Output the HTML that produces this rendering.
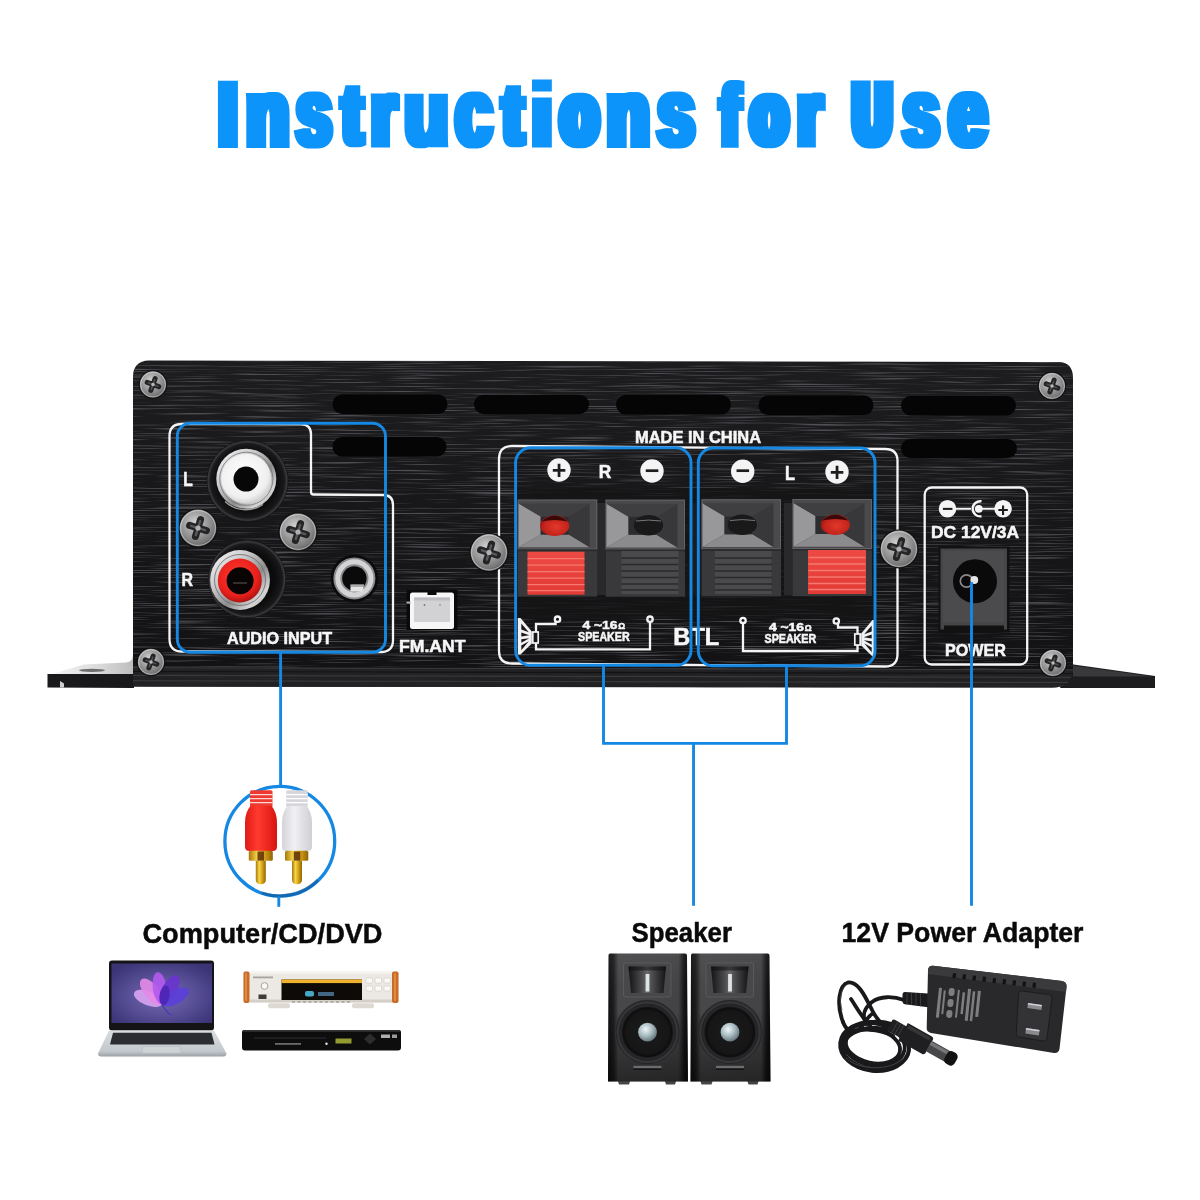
<!DOCTYPE html>
<html lang="en"><head><meta charset="utf-8"><title>Instructions for Use</title>
<style>
html,body{margin:0;padding:0;background:#fff;}
body{width:1200px;height:1200px;overflow:hidden;position:relative;}
svg{display:block;position:absolute;left:0;top:0;will-change:transform;}
text{font-family:"Liberation Sans",sans-serif;}
.lbl{font-family:"Liberation Sans",sans-serif;font-weight:bold;fill:#f6f6f6;stroke:#f6f6f6;stroke-width:0.55;}
.cap{font-family:"Liberation Sans",sans-serif;font-weight:bold;fill:#0a0a0a;stroke:#0a0a0a;stroke-width:0.5;}
.pm{font-family:"Liberation Sans",sans-serif;font-weight:bold;fill:#1d1d1f;}
.bl{fill:none;stroke:#1488e3;stroke-width:2.9;}
.wl{fill:none;stroke:#f4f4f4;stroke-width:2.3;}
.ttl{font-family:"Liberation Sans",sans-serif;font-weight:bold;fill:#0e94fb;stroke:#0e94fb;stroke-linejoin:miter;}
</style></head><body>
<svg width="1200" height="1200" viewBox="0 0 1200 1200">
<defs>
<filter id="brush" x="0" y="0" width="100%" height="100%" color-interpolation-filters="sRGB">
<feTurbulence type="fractalNoise" baseFrequency="0.013 0.95" numOctaves="2" seed="7" result="n"/>
<feColorMatrix in="n" type="matrix" values="0 0 0 0 0.31  0 0 0 0 0.31  0 0 0 0 0.33  3.6 0 0 0 -1.86" result="a"/>
<feComposite in="a" in2="SourceGraphic" operator="in"/>
</filter>
<linearGradient id="bodyg" x1="0" y1="0" x2="0" y2="1">
<stop offset="0" stop-color="#1d1d1f"/><stop offset="0.5" stop-color="#171719"/><stop offset="1" stop-color="#121214"/>
</linearGradient>
<radialGradient id="screwg" cx="0.42" cy="0.36" r="0.72">
<stop offset="0" stop-color="#d2d2d2"/><stop offset="0.4" stop-color="#a2a2a2"/><stop offset="0.8" stop-color="#767676"/><stop offset="1" stop-color="#3a3a3a"/>
</radialGradient>
<g id="screw">
<circle r="14.3" fill="#0e0e0f"/>
<circle r="13.2" fill="url(#screwg)"/>
<circle r="12.4" fill="none" stroke="#f2f2f2" stroke-width="0.9" opacity=".55"/>
<path d="M-6.2,0H6.2M0,-6.2V6.2" stroke="#242426" stroke-width="5" stroke-linecap="round" fill="none" transform="rotate(20)"/>
<path d="M-5,0H5M0,-5V5" stroke="#4f4f52" stroke-width="1.6" stroke-linecap="round" fill="none" transform="rotate(20)"/>
<circle r="1.7" fill="#b9b9b9"/>
</g>
<g id="screwL">
<circle r="19.6" fill="#0e0e0f"/>
<circle r="18.4" fill="url(#screwg)"/>
<circle r="17.4" fill="none" stroke="#f4f4f4" stroke-width="1" opacity=".5"/>
<path d="M-8.8,0H8.8M0,-8.8V8.8" stroke="#242426" stroke-width="7" stroke-linecap="round" fill="none" transform="rotate(17)"/>
<path d="M-7.4,0H7.4M0,-7.4V7.4" stroke="#58585b" stroke-width="2.4" stroke-linecap="round" fill="none" transform="rotate(17)"/>
<circle r="2.6" fill="#b0b0b0"/>
</g>
<linearGradient id="silv" x1="0" y1="0" x2="1" y2="1">
<stop offset="0" stop-color="#fafafa"/><stop offset="0.35" stop-color="#c9c9c9"/><stop offset="0.6" stop-color="#8c8c8c"/><stop offset="0.8" stop-color="#d5d5d5"/><stop offset="1" stop-color="#9a9a9a"/>
</linearGradient>
<radialGradient id="blk" cx="0.5" cy="0.5" r="0.5">
<stop offset="0.7" stop-color="#0b0b0c"/><stop offset="0.9" stop-color="#19191b"/><stop offset="0.96" stop-color="#3a3a3d"/><stop offset="1" stop-color="#0c0c0d"/>
</radialGradient>
<radialGradient id="whins" cx="0.45" cy="0.4" r="0.6">
<stop offset="0" stop-color="#ffffff"/><stop offset="0.8" stop-color="#efefef"/><stop offset="1" stop-color="#cfcfcf"/>
</radialGradient>
<radialGradient id="redins" cx="0.45" cy="0.4" r="0.6">
<stop offset="0" stop-color="#ff3a30"/><stop offset="0.75" stop-color="#e8201c"/><stop offset="1" stop-color="#b01410"/>
</radialGradient>
<linearGradient id="redbtn" x1="0" y1="0" x2="0" y2="1">
<stop offset="0" stop-color="#ee4a44"/><stop offset="1" stop-color="#e23a35"/>
</linearGradient>
<g id="term">
<rect x="0" y="0" width="79.500" height="50" fill="#4a4a4c"/>
<rect x="0.500" y="0.500" width="78.500" height="49" fill="none" stroke="#636365" stroke-width="1"/>
<path d="M1,4 L23,17 L23,35 L1,47.700 Z" fill="#98989b"/>
<path d="M1,47.700 L23,35 L51,35 L72,47.700 Z" fill="#8b8b8e"/>
<path d="M1,4 L72,4 L51,17 L23,17 Z" fill="#3f3f41"/>
<path d="M72,4 L72,47.700 L51,35 L51,17 Z" fill="#38383a"/>
<rect x="23" y="17" width="28" height="18" fill="#2c2c2e"/>
<rect x="0" y="50" width="79.500" height="47" fill="#39393b"/>
<rect x="0" y="50" width="79.500" height="1.600" fill="#2b2b2d"/>
</g>
<g id="ridges" stroke-width="1.3" fill="none">
<path d="M0,7h57M0,13.5h57M0,20h57M0,26.5h57M0,33h57M0,39h57"/>
</g>
<g id="plus"><circle r="11.700" fill="#f4f4f4"/><text class="pm" text-anchor="middle" x="0" y="8.850" font-size="25">+</text></g>
<g id="minus"><circle r="11.700" fill="#f4f4f4"/><text class="pm" text-anchor="middle" x="0" y="7.800" font-size="25">−</text></g>
<linearGradient id="gold" x1="0" y1="0" x2="1" y2="0">
<stop offset="0" stop-color="#a8770a"/><stop offset="0.35" stop-color="#f6d54a"/><stop offset="0.6" stop-color="#e0a818"/><stop offset="1" stop-color="#8f6408"/>
</linearGradient>
<linearGradient id="redplug" x1="0" y1="0" x2="1" y2="0">
<stop offset="0" stop-color="#e01a14"/><stop offset="0.4" stop-color="#ff3b30"/><stop offset="1" stop-color="#d8140f"/>
</linearGradient>
<linearGradient id="whplug" x1="0" y1="0" x2="1" y2="0">
<stop offset="0" stop-color="#d4d4d8"/><stop offset="0.4" stop-color="#f1f1f4"/><stop offset="1" stop-color="#cfcfd4"/>
</linearGradient>
<radialGradient id="lscr" cx="0.5" cy="0.55" r="0.65">
<stop offset="0" stop-color="#756db2"/><stop offset="0.55" stop-color="#564d95"/><stop offset="1" stop-color="#3a3374"/>
</radialGradient>
<linearGradient id="lbase" x1="0" y1="0" x2="0" y2="1">
<stop offset="0" stop-color="#d9dde0"/><stop offset="0.8" stop-color="#c3c8cc"/><stop offset="1" stop-color="#9aa0a5"/>
</linearGradient>
<linearGradient id="spkbody" x1="0" y1="0" x2="1" y2="0">
<stop offset="0" stop-color="#101011"/><stop offset="0.07" stop-color="#1e1e1f"/><stop offset="0.13" stop-color="#48484a"/><stop offset="0.88" stop-color="#434345"/><stop offset="0.95" stop-color="#151516"/><stop offset="1" stop-color="#0c0c0d"/>
</linearGradient>
<radialGradient id="cone" cx="0.5" cy="0.5" r="0.5">
<stop offset="0" stop-color="#1b1b1c"/><stop offset="0.75" stop-color="#161617"/><stop offset="0.85" stop-color="#0d0d0e"/><stop offset="0.93" stop-color="#2a2a2c"/><stop offset="1" stop-color="#1d1d1f"/>
</radialGradient>
<radialGradient id="dust" cx="0.4" cy="0.35" r="0.7">
<stop offset="0" stop-color="#eef6f8"/><stop offset="0.5" stop-color="#a9bcc2"/><stop offset="1" stop-color="#5c6c72"/>
</radialGradient>
<g id="spkbox">
<path d="M2,0 L77,0 Q79,0 79,2 L80,128 L68,128 L67,131 L58,131 L57,128 L22,128 L21,131 L11,131 L10,128 L0,128 L0.500,2 Q0.500,0 2,0Z" fill="url(#spkbody)"/>
<path d="M2,0 L77,0 Q79,0 79,2 L80,128 L0,128 L0.500,2 Q0.500,0 2,0Z" fill="url(#spkv)"/>
<rect x="15.500" y="9.500" width="47.500" height="34" rx="2" fill="#48484a"/>
<rect x="15.500" y="9.500" width="47.500" height="34" rx="2" fill="none" stroke="#5e5e60" stroke-width="0.800"/>
<path d="M20.500,13 h37.500 l-2.500,26.500 h-32.500z" fill="url(#horn)"/>
<rect x="20.500" y="13" width="37.500" height="4" fill="#111" opacity=".55"/>
<rect x="37.600" y="20.500" width="3.800" height="17.500" fill="#dfe3e6"/>
<circle cx="39.500" cy="78.700" r="32.500" fill="#353537"/>
<circle cx="39.500" cy="78.700" r="31.500" fill="none" stroke="#232325" stroke-width="1"/>
<circle cx="39.500" cy="78.700" r="28.500" fill="url(#cone)"/>
<circle cx="39.500" cy="78.700" r="9.400" fill="url(#dust)"/>
<rect x="25.500" y="112.300" width="28" height="2.600" fill="#6c6c6e"/>
<rect x="25.500" y="114.900" width="28" height="1.600" fill="#151516"/>
</g>
<linearGradient id="flgL" x1="0" y1="0" x2="1" y2="0">
<stop offset="0" stop-color="#f4f4f4"/><stop offset="0.55" stop-color="#dcdcdc"/><stop offset="1" stop-color="#bdbdbd"/>
</linearGradient>
<radialGradient id="redhole" cx="0.55" cy="0.55" r="0.6">
<stop offset="0" stop-color="#e2382a"/><stop offset="0.7" stop-color="#c4241c"/><stop offset="1" stop-color="#98140f"/>
</radialGradient>
<linearGradient id="spkv" x1="0" y1="0" x2="0" y2="1">
<stop offset="0" stop-color="#fff" stop-opacity="0.05"/><stop offset="0.45" stop-color="#000" stop-opacity="0"/><stop offset="1" stop-color="#000" stop-opacity="0.45"/>
</linearGradient>
<linearGradient id="horn" x1="0" y1="0" x2="1" y2="0">
<stop offset="0" stop-color="#141415"/><stop offset="0.38" stop-color="#4e4e50"/><stop offset="0.5" stop-color="#6a6a6c"/><stop offset="0.62" stop-color="#4e4e50"/><stop offset="1" stop-color="#141415"/>
</linearGradient>
<filter id="hd" filterUnits="userSpaceOnUse" x="180" y="50" width="840" height="130"><feMorphology operator="dilate" radius="3 0"/></filter>

</defs>
<rect width="1200" height="1200" fill="#ffffff"/>
<text class="ttl" filter="url(#hd)"><tspan x="218.75" y="145.10" font-size="88.46" stroke-width="6.0" textLength="18.33" lengthAdjust="spacingAndGlyphs">I</tspan><tspan x="246.75" y="145.10" font-size="92.31" stroke-width="6.0" textLength="41.86" lengthAdjust="spacingAndGlyphs">n</tspan><tspan x="296.60" y="144.65" font-size="93.73" stroke-width="5.0" textLength="34.96" lengthAdjust="spacingAndGlyphs">s</tspan><tspan x="342.75" y="142.90" font-size="82.47" stroke-width="6.5" textLength="19.00" lengthAdjust="spacingAndGlyphs">t</tspan><tspan x="372.35" y="144.10" font-size="88.67" stroke-width="7.0" textLength="23.39" lengthAdjust="spacingAndGlyphs">r</tspan><tspan x="404.65" y="144.65" font-size="93.14" stroke-width="4.5" textLength="43.37" lengthAdjust="spacingAndGlyphs">u</tspan><tspan x="455.85" y="144.65" font-size="93.73" stroke-width="5.0" textLength="35.93" lengthAdjust="spacingAndGlyphs">c</tspan><tspan x="503.35" y="142.90" font-size="82.47" stroke-width="6.5" textLength="19.32" lengthAdjust="spacingAndGlyphs">t</tspan><tspan x="530.75" y="146.10" font-size="88.08" stroke-width="3.0" textLength="22.41" lengthAdjust="spacingAndGlyphs">i</tspan><tspan x="561.00" y="142.65" font-size="85.85" stroke-width="8.5" textLength="36.97" lengthAdjust="spacingAndGlyphs">o</tspan><tspan x="607.35" y="145.10" font-size="92.31" stroke-width="6.0" textLength="41.90" lengthAdjust="spacingAndGlyphs">n</tspan><tspan x="657.65" y="144.65" font-size="93.73" stroke-width="5.0" textLength="36.66" lengthAdjust="spacingAndGlyphs">s</tspan> <tspan x="720.85" y="145.10" font-size="85.03" stroke-width="6.0" textLength="18.61" lengthAdjust="spacingAndGlyphs">f</tspan><tspan x="751.00" y="142.65" font-size="85.85" stroke-width="8.5" textLength="36.31" lengthAdjust="spacingAndGlyphs">o</tspan><tspan x="798.35" y="144.10" font-size="88.67" stroke-width="7.0" textLength="23.06" lengthAdjust="spacingAndGlyphs">r</tspan> <tspan x="854.00" y="141.65" font-size="80.69" stroke-width="11.0" textLength="36.29" lengthAdjust="spacingAndGlyphs">U</tspan><tspan x="903.00" y="144.65" font-size="93.73" stroke-width="5.0" textLength="35.99" lengthAdjust="spacingAndGlyphs">s</tspan><tspan x="949.35" y="144.65" font-size="93.70" stroke-width="6.0" textLength="37.46" lengthAdjust="spacingAndGlyphs">e</tspan></text>

<g id="device">
<!-- flanges -->
<path d="M47.5,674 L134,674 L134,688 L47.5,687.5 Z" fill="#19191b"/>
<path d="M52,674 L84,664.5 L126,662.5 Q133,662 133,655 L134,674 Z" fill="url(#flgL)"/>
<ellipse cx="92" cy="670.3" rx="13" ry="1.6" fill="#6d6d6f"/>
<path d="M60,681 v6.5 h4 v-4z" fill="#cfcfcf"/>
<path d="M1070,664 L1155,676 L1155,688 L1060,688 Z" fill="#1d1d1f"/>
<path d="M1073,665.5 L1152,676.5 L1073,676.5 Z" fill="#39393b"/>
<!-- body -->
<path id="bodyp" d="M133,377 Q133,361 149,360.5 L1058,362 Q1073,362 1073,378 L1073,668 Q1073,687.5 1052,687.5 L133,686.5 Z" fill="url(#bodyg)"/>
<path d="M133,377 Q133,361 149,360.5 L1058,362 Q1073,362 1073,378 L1073,668 Q1073,687.5 1052,687.5 L133,686.5 Z" fill="#505054" filter="url(#brush)"/>
<path d="M133,667.500 L1073,669.500 Q1072,687.500 1052,687.500 L133,686.500Z" fill="#242426" opacity="0.9"/>
<path d="M133,667.700 L1073,669.700 M133,675.500 L1071,677.300 M133,680.800 L1068,682.500" stroke="#47474a" stroke-width="0.9" opacity=".8" fill="none"/>
<path d="M133,671.500 L1073,673.500" stroke="#0f0f10" stroke-width="1.2" opacity=".8" fill="none"/>
<!-- vents -->
<g fill="#050505">
<rect x="332.5" y="394.5" width="115" height="19.5" rx="9.7"/>
<rect x="474" y="394.7" width="115" height="19.5" rx="9.7"/>
<rect x="616" y="395" width="115" height="19.5" rx="9.7"/>
<rect x="758.5" y="395.5" width="115" height="19.5" rx="9.7"/>
<rect x="901" y="396" width="115" height="19.5" rx="9.7"/>
<rect x="332.5" y="437" width="114" height="19.5" rx="9.7"/>
<rect x="901" y="439" width="116" height="19" rx="9.5"/>
</g>
<!-- corner screws -->
<use href="#screw" x="153" y="384.5"/>
<use href="#screw" x="1052" y="386"/>
<use href="#screw" x="151" y="662"/>
<use href="#screw" x="1053" y="663"/>
<g id="audio">
<!-- white silk outline -->
<path class="wl" d="M169.5,436 Q169.5,424 182,424 L301,424.3 Q311,424.5 311,434 L311,492 Q311,494.5 313.5,494.5 L383,495 Q393,495 393,505 L393,640 Q393,652 381,652 L182,651.5 Q169.5,651.5 169.5,639 Z"/>
<!-- RCA L -->
<circle cx="247.500" cy="480.900" r="41" fill="url(#blk)"/>
<circle cx="246.300" cy="478.800" r="30" fill="url(#silv)"/>
<circle cx="246.300" cy="478.800" r="26.600" fill="none" stroke="#77777a" stroke-width="1" opacity=".8"/>
<circle cx="246.300" cy="478.800" r="25" fill="url(#whins)"/>
<circle cx="246" cy="479.100" r="12.500" fill="#070707"/>
<path d="M225,501.500 A30.500,30.500 0 0 0 263,504.500" fill="none" stroke="#fff" stroke-width="1.400" opacity=".6"/>
<!-- RCA R -->
<circle cx="247" cy="579.100" r="39.200" fill="url(#blk)"/>
<circle cx="240" cy="580" r="29.900" fill="url(#silv)"/>
<circle cx="240" cy="580" r="25.500" fill="none" stroke="#6a6a6d" stroke-width="1" opacity=".8"/>
<circle cx="239.800" cy="580.500" r="22" fill="url(#redins)"/>
<circle cx="240.100" cy="580.700" r="13.500" fill="#0a0505"/>
<path d="M233,583 h14" stroke="#8a8a8a" stroke-width=".8" opacity=".8"/>
<!-- screws -->
<use href="#screwL" x="198" y="528"/>
<use href="#screwL" x="298" y="532"/>
<!-- 3.5mm jack -->
<circle cx="354.400" cy="578.400" r="23.800" fill="#0b0b0c"/>
<circle cx="354.400" cy="578.400" r="21" fill="#8b8b8d"/>
<circle cx="354.400" cy="578.400" r="16.600" fill="none" stroke="#d4d4d6" stroke-width="5"/>
<circle cx="354.400" cy="578.400" r="12.200" fill="#0a0a0a"/>
<path d="M350.500,584.500 h13.500 l-1.500,7 h-12z" fill="#e4e4e4"/>
<path d="M350.500,586 h13" stroke="#555" stroke-width=".8"/>
<!-- labels -->
<text class="lbl" x="183.3" y="486.4" font-size="19.5" textLength="9.5" lengthAdjust="spacingAndGlyphs">L</text>
<text class="lbl" x="181.4" y="586" font-size="19" textLength="11.5" lengthAdjust="spacingAndGlyphs">R</text>
<text class="lbl" x="227" y="644.4" font-size="17.3" textLength="105" lengthAdjust="spacingAndGlyphs">AUDIO INPUT</text>
<!-- FM.ANT -->
<rect x="406.500" y="590" width="51" height="40" fill="#0a0a0b"/>
<path d="M410,595 q0,-2.500 2.500,-2.500 h15 v2.500 h9 v-2.500 h15 q2.500,0 2.500,2.500 v31.500 q0,2.500 -2.500,2.500 h-39 q-2.500,0 -2.500,-2.500z" fill="#f6f6f6"/>
<path d="M414,597.500 h36 v24.500 h-36z" fill="#d2d2d5"/>
<path d="M414,597.500 h36 v3 h-36z" fill="#bdbdc1"/>
<circle cx="424.500" cy="605" r="0.900" fill="#777"/><circle cx="440" cy="605" r="0.900" fill="#999"/>
<rect x="406.500" y="601.500" width="4" height="2.200" fill="#aaa"/>
<text class="lbl" x="399" y="652.3" font-size="17" textLength="66.5" lengthAdjust="spacingAndGlyphs">FM.ANT</text>
</g>

<g id="spk">
<!-- white silk outline -->
<path class="wl" d="M499,459 Q499,446 512,446 L885,449 Q897.5,449 897.5,461 L897.5,654 Q897.5,666.5 885,666.5 L512,663.5 Q499,663.5 499,651 Z"/>
<text class="lbl" x="635" y="443" font-size="16.8" textLength="126" lengthAdjust="spacingAndGlyphs">MADE IN CHINA</text>
<!-- shadow band behind terminals -->
<rect x="515" y="488" width="360" height="130" fill="#141416" opacity="0.75"/>
<rect x="596" y="503" width="9" height="92" fill="#29292b"/>
<rect x="689" y="503" width="12" height="92" fill="#1c1c1e"/>
<rect x="784" y="503" width="8.5" height="92" fill="#29292b"/>
<use href="#term" x="517.700" y="499.600"/>
<use href="#term" x="605.5" y="499.7" transform="translate(0,0)"/>
<use href="#term" x="701.5" y="499.3"/>
<use href="#term" x="792.5" y="499"/>
<!-- holes -->
<ellipse cx="554.700" cy="525.800" rx="14.600" ry="10.300" fill="url(#redhole)"/>
<path d="M541.500,521.500 q13.200,-11.500 26.400,0 q-13.200,-3 -26.400,0z" fill="#3a0806"/>
<ellipse cx="648.500" cy="525.300" rx="14.600" ry="10.300" fill="#19191a"/>
<path d="M636,521 q12.500,-1.800 25,0" stroke="#77777a" stroke-width="1" fill="none"/>
<ellipse cx="742.300" cy="524.800" rx="14.600" ry="10.300" fill="#19191a"/>
<path d="M730,520.500 q12.500,-1.800 25,0" stroke="#77777a" stroke-width="1" fill="none"/>
<ellipse cx="835.300" cy="524.800" rx="14.600" ry="10.300" fill="url(#redhole)"/>
<path d="M822.100,520.500 q13.200,-11.500 26.400,0 q-13.200,-3 -26.400,0z" fill="#3a0806"/>
<!-- buttons -->
<rect x="527.5" y="551.7" width="57" height="43" fill="url(#redbtn)"/>
<use href="#ridges" x="527.5" y="551.7" stroke="#f67a72"/>
<rect x="621.5" y="551" width="57" height="43" fill="#4a4a4c"/>
<use href="#ridges" x="621.5" y="551" stroke="#2a2a2c"/>
<rect x="715" y="551" width="56.5" height="43" fill="#4a4a4c"/>
<use href="#ridges" x="715" y="551" stroke="#2a2a2c"/>
<rect x="808" y="550" width="58" height="44" fill="url(#redbtn)"/>
<use href="#ridges" x="808.5" y="550.5" stroke="#f67a72"/>
<!-- polarity -->
<use href="#plus" x="559" y="470"/>
<use href="#minus" x="652" y="471"/>
<use href="#minus" x="742.7" y="471.2"/>
<use href="#plus" x="837" y="472"/>
<text class="lbl" x="598.8" y="477.7" font-size="19" textLength="12.5" lengthAdjust="spacingAndGlyphs">R</text>
<text class="lbl" x="785" y="479.5" font-size="20" textLength="10" lengthAdjust="spacingAndGlyphs">L</text>
<!-- bracket 1 -->
<g class="wl" stroke-width="1.4">
<circle cx="557.5" cy="619.2" r="2.7"/>
<path d="M555.6,621.2 L555.6,624 L536,624 L536,649.3 L650,649.3 L650,622"/>
<circle cx="650" cy="619.2" r="2.7"/>
<circle cx="743" cy="620.5" r="2.7"/>
<path d="M743,623.3 L743,651 L857.5,651 L857.5,627.5 L838,627.5 L838,623.5"/>
<circle cx="836.3" cy="621" r="2.7"/>
</g>
<!-- speaker icons -->
<g>
<path d="M517.800,618 L520.500,618 L531.800,631.500 L531.800,643.500 L520.500,654.500 L517.800,654.500Z" fill="#f2f2f2"/>
<g fill="#18181a"><path d="M521.300,623.500 L528.800,632.300 L521.300,629.600Z"/><path d="M521.300,632.400 L529.300,635.200 L521.300,636.600Z"/><path d="M521.300,639.200 L529.300,638.300 L521.300,642.800Z"/><path d="M521.300,645.600 L528.800,641.300 L521.300,650.300Z"/></g>
<rect x="532.800" y="632" width="5.400" height="11" fill="#18181a" stroke="#f2f2f2" stroke-width="1.700"/>
<path d="M875.200,620 L872.500,620 L861.200,633.500 L861.200,645.500 L872.500,656.500 L875.200,656.500Z" fill="#f2f2f2"/>
<g fill="#18181a"><path d="M871.700,625.500 L864.200,634.300 L871.700,631.600Z"/><path d="M871.700,634.400 L863.700,637.200 L871.700,638.600Z"/><path d="M871.700,641.200 L863.700,640.300 L871.700,644.800Z"/><path d="M871.700,647.600 L864.200,643.300 L871.700,652.300Z"/></g>
<rect x="854.800" y="634" width="5.400" height="11" fill="#18181a" stroke="#f2f2f2" stroke-width="1.700"/>
</g>
<text class="lbl" x="582.5" y="629.3" font-size="11.6" textLength="35" lengthAdjust="spacingAndGlyphs">4 ~16</text>
<text class="lbl" x="618.3" y="629.3" font-size="8.6">Ω</text>
<text class="lbl" x="578" y="641.4" font-size="12.3" textLength="51.7" lengthAdjust="spacingAndGlyphs">SPEAKER</text>
<text class="lbl" x="769" y="631" font-size="11.6" textLength="35" lengthAdjust="spacingAndGlyphs">4 ~16</text>
<text class="lbl" x="804.8" y="631" font-size="8.6">Ω</text>
<text class="lbl" x="764.5" y="643.2" font-size="12.3" textLength="51.7" lengthAdjust="spacingAndGlyphs">SPEAKER</text>
<text class="lbl" x="673.3" y="644.8" font-size="24.4" textLength="46" lengthAdjust="spacingAndGlyphs">BTL</text>
<!-- side screws -->
<use href="#screwL" x="489" y="552.5"/>
<use href="#screwL" x="899" y="549"/>
</g>

<g id="pwr">
<rect class="wl" x="924.7" y="487.5" width="102.5" height="177" rx="7"/>
<!-- DC polarity symbol -->
<g>
<path d="M947.500,508.800 H971 M979,508.800 H1003" stroke="#f4f4f4" stroke-width="2"/>
<circle cx="947.500" cy="508.800" r="8.800" fill="#f4f4f4"/>
<circle cx="1003.100" cy="508.800" r="8.800" fill="#f4f4f4"/>
<text class="pm" text-anchor="middle" x="947.500" y="514.750" font-size="19">−</text>
<text class="pm" text-anchor="middle" x="1003.100" y="515.550" font-size="19">+</text>
<path d="M981.500,501.300 A7.600,7.600 0 1 0 981.500,516.300" fill="none" stroke="#f4f4f4" stroke-width="2.400"/>
<circle cx="978.800" cy="508.800" r="3.900" fill="#f4f4f4"/>
</g>
<text class="lbl" x="931" y="537.5" font-size="17.4" textLength="88" lengthAdjust="spacingAndGlyphs">DC 12V/3A</text>
<!-- jack -->
<rect x="938.5" y="546.5" width="71" height="86" fill="#111112"/>
<path d="M940.5,548.5 h66.5 v81 h-3 v-4 h-60 v4 h-3.5z" fill="#454547"/>
<path d="M943,551 h61.5 v71 h-61.5z" fill="#4b4b4d"/>
<circle cx="975" cy="581.200" r="22" fill="#0a0a0b"/>
<circle cx="966.500" cy="581" r="6.200" fill="none" stroke="#8a8a8c" stroke-width="1.700"/>
<circle cx="974.300" cy="580" r="3.900" fill="#e6e6e6"/>
<text class="lbl" x="945" y="656.3" font-size="16.6" textLength="61" lengthAdjust="spacingAndGlyphs">POWER</text>
</g>

</g>

<g id="callouts">
<rect class="bl" x="177.300" y="423.200" width="208.200" height="229" rx="13"/>
<path class="bl" d="M280.600,652 V786"/>
<circle class="bl" cx="279.800" cy="841.200" r="54.900" style="stroke-width:3.300"/>
<path d="M318,880 A55,55 0 0 1 262,893" fill="none" stroke="#0d3c6e" stroke-width="3.300" opacity=".4"/>
<path class="bl" d="M278.800,896.500 V906.800"/>
<rect class="bl" x="515.600" y="447.800" width="175.400" height="217.500" rx="15"/>
<rect class="bl" x="698.300" y="448" width="176.700" height="217.800" rx="15"/>
<path class="bl" d="M603.500,665 V743.400 H786.500 V665.500"/>
<path class="bl" d="M693.550,743 V905.800"/>
<path class="bl" d="M971.500,582 V905.800"/>
</g>

<g id="bottom">
<!-- RCA plugs in circle -->
<g>
<path d="M251.500,790.300 h19.500 q1.500,0 1.500,1.500 v15 h-22.500 v-15 q0,-1.500 1.500,-1.500z" fill="#ee3a30"/>
<path d="M250,794.600 h22.500M250,798.600 h22.500M250,802.600 h22.500" stroke="#fff" stroke-width="1.300" opacity=".8"/>
<path d="M250.500,806 L271.500,806 Q277,812 277,823 L277,846.500 Q277,851 272.500,851 L249.500,851 Q245,851 245,846.500 L245,823 Q245,812 250.500,806Z" fill="url(#redplug)"/>
<rect x="248.800" y="850.800" width="24" height="10" rx="1.500" fill="url(#gold)"/>
<rect x="257.500" y="851.500" width="6.500" height="9.300" fill="#5a3008" opacity=".85"/>
<path d="M255.800,860.800 h10 v19 q0,4.400 -5,4.400 q-5,0 -5,-4.400z" fill="url(#gold)"/>
<path d="M287.700,790.300 h18.500 q1.500,0 1.500,1.500 v15 h-21.500 v-15 q0,-1.500 1.500,-1.500z" fill="#d6d6dc"/>
<path d="M286.200,794.600 h21.500M286.200,798.600 h21.500M286.200,802.600 h21.500" stroke="#fff" stroke-width="1.300"/>
<path d="M287.500,806 L306.500,806 Q312,812 312,823 L312,846.500 Q312,851 307.500,851 L286.500,851 Q282,851 282,846.500 L282,823 Q282,812 287.500,806Z" fill="url(#whplug)"/>
<rect x="285" y="850.800" width="23.300" height="10" rx="1.500" fill="url(#gold)"/>
<rect x="293.800" y="851.500" width="6.500" height="9.300" fill="#5a3008" opacity=".85"/>
<path d="M292,860.800 h10 v19 q0,4.400 -5,4.400 q-5,0 -5,-4.400z" fill="url(#gold)"/>
</g>
<!-- captions -->
<text class="cap" x="142.500" y="942.500" font-size="28" textLength="240" lengthAdjust="spacingAndGlyphs">Computer/CD/DVD</text>
<text class="cap" x="631.500" y="942.300" font-size="28" textLength="100.500" lengthAdjust="spacingAndGlyphs">Speaker</text>
<text class="cap" x="841.500" y="942.300" font-size="28" textLength="242" lengthAdjust="spacingAndGlyphs">12V Power Adapter</text>
<!-- laptop -->
<g>
<rect x="109" y="960.500" width="105" height="70" rx="3" fill="#141416"/>
<rect x="111.500" y="963.500" width="100.500" height="59.500" fill="url(#lscr)"/>
<g transform="translate(162,1004)">
<ellipse cx="0" cy="-15" rx="7" ry="15" fill="#d9a4f2" opacity=".9" transform="rotate(-68)"/>
<ellipse cx="0" cy="-16" rx="7.500" ry="16" fill="#e58ae8" opacity=".9" transform="rotate(-40)"/>
<ellipse cx="0" cy="-16" rx="7" ry="16" fill="#b45af0" opacity=".9" transform="rotate(-8)"/>
<ellipse cx="0" cy="-16" rx="7.500" ry="16" fill="#6a34d0" opacity=".92" transform="rotate(28)"/>
<ellipse cx="0" cy="-15" rx="7" ry="15" fill="#5b3fd8" opacity=".92" transform="rotate(62)"/>
<ellipse cx="1" cy="-9" rx="5" ry="10" fill="#4a22b0" opacity=".8" transform="rotate(10)"/>
<path d="M0,0 q2,6 9,11" stroke="#4a3ab0" stroke-width="1.300" fill="none"/>
</g>
<path d="M109,1030.500 h105 l12.500,23 q0,3 -3,3 h-122.500 q-3,0 -3,-3z" fill="url(#lbase)"/>
<path d="M113,1032.800 h98.500 l3,11.800 h-104.500z" fill="#2c2d30"/>
<path d="M143,1046.500 h37 l1,6.500 h-39z" fill="#cfd3d6" stroke="#b3b8bc" stroke-width=".5"/>
</g>
<!-- CD player -->
<g>
<rect x="243.500" y="971" width="155" height="31.500" rx="1.500" fill="#ece9e4"/>
<rect x="243.500" y="971" width="155" height="2.500" fill="#f7f5f2"/>
<rect x="250" y="999.500" width="142" height="3" fill="#d4d0c8"/>
<rect x="243.500" y="971.500" width="6" height="31.500" rx="2" fill="#c96a26"/>
<rect x="245" y="973" width="2" height="28" rx="1" fill="#e59448" opacity=".8"/>
<rect x="392" y="971.500" width="6.500" height="31.500" rx="2" fill="#c96a26"/>
<rect x="394" y="973" width="2" height="28" rx="1" fill="#e59448" opacity=".8"/>
<rect x="281.500" y="979.500" width="80.500" height="20.500" fill="#0d0a07"/>
<rect x="281.500" y="979.500" width="80.500" height="3.600" fill="#f0b22c"/>
<rect x="305" y="991" width="9" height="5.500" rx="2" fill="#4fc4e8" opacity=".85"/>
<rect x="318" y="992" width="16" height="4" fill="#5a8fb8" opacity=".7"/>
<rect x="253" y="976.500" width="20" height="1.800" fill="#8a867e" opacity=".7"/>
<circle cx="264.500" cy="986" r="3.400" fill="#f9f8f6" stroke="#9d998f" stroke-width=".9"/>
<rect x="258.500" y="994.500" width="8" height="4.500" fill="#3f3b35"/>
<g fill="#fbfaf8" stroke="#cfcbc3" stroke-width=".6"><rect x="366" y="978" width="6.500" height="5" rx="1"/><rect x="375" y="978" width="6.500" height="5" rx="1"/><rect x="384" y="978" width="6.500" height="5" rx="1"/><rect x="366" y="986" width="6.500" height="5" rx="1"/><rect x="375" y="986" width="6.500" height="5" rx="1"/><rect x="384" y="986" width="6.500" height="5" rx="1"/></g>
<path d="M292,1002 h60" stroke="#77736b" stroke-width="1.200" stroke-dasharray="3 2.500" opacity=".8"/>
<rect x="268" y="1003.200" width="22" height="5" rx="2" fill="#dedad3"/>
<rect x="352" y="1003.200" width="22" height="5" rx="2" fill="#dedad3"/>
</g>
<!-- DVD player -->
<g>
<path d="M244,1030 h155 q2,0 2,2 v15.500 q0,3 -3,3 h-153 q-3,0 -3,-3 v-15.500 q0,-2 2,-2z" fill="#0d0d0e"/>
<rect x="243" y="1030" width="157" height="1.800" fill="#343436"/>
<rect x="254" y="1037.500" width="72" height="1.200" fill="#2a2a2c"/>
<rect x="275" y="1043" width="26" height="1.800" fill="#6a6a6e"/>
<circle cx="326.500" cy="1043.800" r="1.200" fill="#e8e8e8"/>
<rect x="335.500" y="1038.500" width="16" height="5" fill="#b5bf3a" opacity=".8"/>
<path d="M370,1033.500 l6,5.500 l-6,5.500 l-6,-5.500z" fill="#2d2d30"/>
<rect x="381" y="1034.500" width="9" height="3.500" fill="#d8d8dc" opacity=".8"/><rect x="392" y="1034.500" width="5" height="3.500" fill="#d8d8dc" opacity=".7"/>
</g>
<!-- speakers -->
<use href="#spkbox" x="608" y="953.500"/>
<use href="#spkbox" x="690.500" y="953.500"/>
<g id="adapter">
<!-- cable -->
<g fill="none" stroke="#19191b" stroke-width="3.800" stroke-linecap="round">
<path d="M904,1000 C893,996 880,996 872,1002 C864,1008 862,1016 866,1024"/>
<path d="M843,1022 C836,1004 839,985 848,982.500 C858,981 865,996 872,1010 C876,1018 882,1025 889,1029"/>
<path d="M851,999 C857,1008 863,1019 871,1027"/>
<path d="M843,1022 C846,1030 852,1034 858,1030 C864,1026 866,1018 872,1014"/>
<ellipse cx="874.500" cy="1046.500" rx="34.500" ry="24.500" transform="rotate(6 874.500 1046.500)"/>
<ellipse cx="874" cy="1044.500" rx="31" ry="21" transform="rotate(10 874 1044.500)"/>
<ellipse cx="876" cy="1048.500" rx="33" ry="20.500" transform="rotate(2 876 1048.500)"/>
<ellipse cx="873" cy="1046" rx="27.500" ry="17" transform="rotate(12 873 1046)"/>
<path d="M843,1038 C852,1024 872,1018 892,1024"/>
<path d="M848,1034 C860,1028 878,1028 893,1036"/>
</g>
<g fill="none" stroke="#4a4a4e" stroke-width="1" stroke-linecap="round" opacity=".8">
<path d="M846,1058 C858,1070 890,1072 904,1058"/>
<path d="M842,1010 C838,998 842,986 848,984"/>
</g>
<!-- strain relief -->
<path d="M928,993.500 l-23,-1.500 q-2.500,0 -2.500,3 v6 q0,3 2.500,3.200 l23,3z" fill="#1a1a1c"/>
<path d="M907,992.500v12M911.500,992.800v12.200M916,993v12.600M920.500,993.300v13" stroke="#3a3a3d" stroke-width="1"/>
<!-- barrel plug -->
<g transform="translate(3,2) rotate(29 897 1027)">
<path d="M888,1021.500 h13 v-3.500 h27 q3,0 3,3 v14 q0,3 -3,3 h-27 v-3.500 h-13 q-2,0 -2,-2 v-9 q0,-2 2,-2z" fill="#1f1f21"/>
<path d="M891.500,1021.500v13M895,1021.500v13M898.500,1021.500v13" stroke="#3a3a3d" stroke-width="1"/>
<rect x="903" y="1019.500" width="25" height="3.500" fill="#3b3b3e" opacity=".8"/>
<rect x="930.500" y="1022" width="27" height="12" rx="1.500" fill="#47474a"/>
<rect x="930.500" y="1023" width="21" height="3.500" fill="#8a8a8e" opacity=".7"/>
<rect x="950" y="1021" width="11.500" height="14" rx="4.500" fill="#121213"/>
</g>
<!-- body -->
<path d="M933,965.800 L1062,981 Q1067,982 1066.500,987 L1059.500,1049 Q1058.500,1053.500 1054,1053 L931,1033 Q926.500,1032 926.700,1028 L928,970 Q928.500,965.500 933,965.800Z" fill="#29292b"/>
<path d="M933,965.800 L1062,981 Q1067,982 1066.500,987 L1066,992 L928,974 L928,970 Q928.500,965.500 933,965.800Z" fill="#3a3a3c"/>
<g fill="#121213">
<rect x="953" y="973" width="3.200" height="5" transform="rotate(7 953 973)"/><rect x="963" y="974.200" width="3.200" height="5" transform="rotate(7 963 974)"/><rect x="973" y="975.400" width="3.200" height="5" transform="rotate(7 973 975)"/><rect x="983" y="976.600" width="3.200" height="5" transform="rotate(7 983 976)"/><rect x="993" y="977.800" width="3.200" height="5" transform="rotate(7 993 978)"/><rect x="1003" y="979" width="3.200" height="5" transform="rotate(7 1003 979)"/><rect x="1013" y="980.200" width="3.200" height="5" transform="rotate(7 1013 980)"/><rect x="1023" y="981.400" width="3.200" height="5" transform="rotate(7 1023 981)"/><rect x="1033" y="982.600" width="3.200" height="5" transform="rotate(7 1033 982)"/>
</g>
<!-- label -->
<g transform="rotate(6 960 1008)" fill="#c4c4c8" opacity=".55">
<rect x="937" y="990" width="3" height="30"/><rect x="942" y="992" width="2" height="24"/><rect x="947" y="989" width="6" height="8" rx="3"/><rect x="947" y="1000" width="6" height="8" rx="3"/><rect x="947" y="1011" width="6" height="8" rx="3"/>
<rect x="956" y="990" width="2" height="28"/><rect x="961" y="992" width="2.500" height="22"/><rect x="966" y="988" width="3" height="32"/><rect x="971" y="990" width="2.500" height="30"/><rect x="976" y="989" width="3" height="26"/>
</g>
<!-- prong recess -->
<path d="M1022,991 L1049,994.500 Q1052.500,995 1052,998.500 L1047,1038 Q1046.500,1041.500 1043,1041 L1019,1037 Q1016,1036.500 1016.300,1033 L1018.500,994 Q1019,990.500 1022,991Z" fill="#333335" stroke="#1c1c1e" stroke-width="1"/>
<path d="M1028,1003 l14,2 l-0.600,5 l-14,-2z" fill="#8a8a8e"/>
<path d="M1026,1028 l13.500,2 l-0.600,5.500 l-13.500,-2z" fill="#8a8a8e"/>
<path d="M1028,1003 l14,2 l-0.200,1.600 l-14,-2z" fill="#d0d0d4"/>
<path d="M1026,1028 l13.500,2 l-0.200,1.600 l-13.500,-2z" fill="#d0d0d4"/>
</g>

</g>

</svg>
</body></html>
